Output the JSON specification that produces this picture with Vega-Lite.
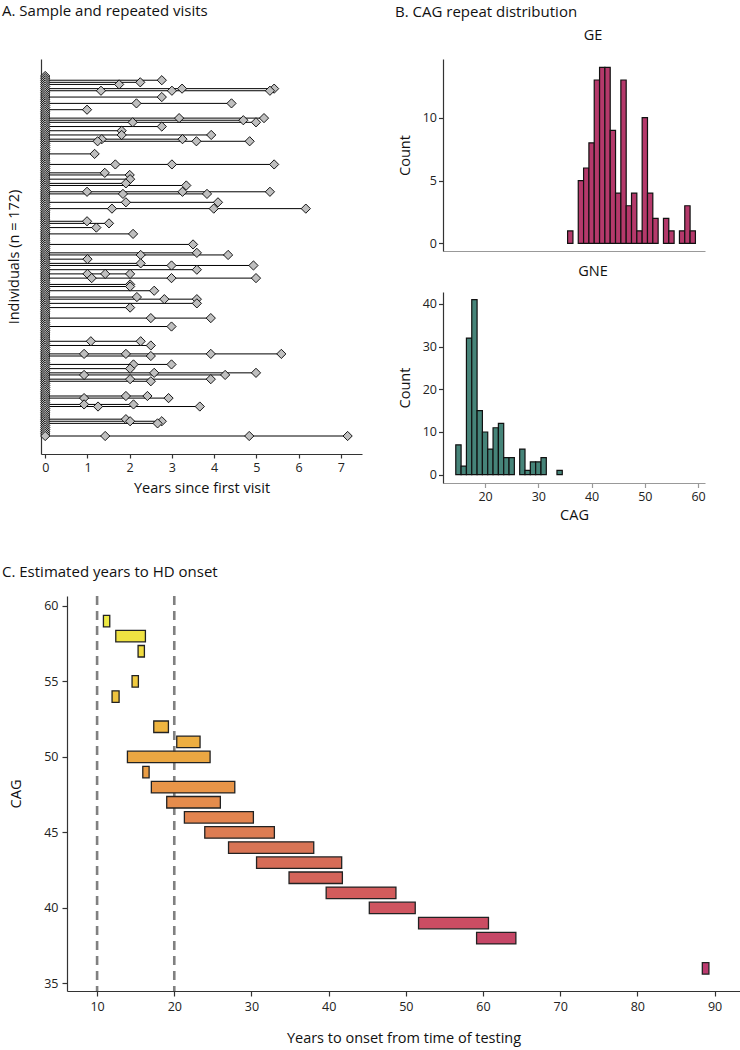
{
  "$schema": "https://vega.github.io/schema/vega-lite/v6.json",
  "padding": {"left": 2, "top": 4, "right": 0, "bottom": 8},
  "background": "white",
  "config": {
    "font": "Open Sans",
    "view": {"stroke": null},
    "axis": {"grid": false, "domainColor": "#333333", "tickColor": "#333333", "labelColor": "#222222", "titleColor": "#111111", "labelFontSize": 12.5, "titleFontSize": 14.5, "titleFontWeight": "normal", "tickSize": 4.5, "labelPadding": 3, "domainWidth": 1.2, "tickWidth": 1.2, "labelFlush": false},
    "title": {"fontWeight": "normal", "fontSize": 15, "color": "#111111", "baseline": "alphabetic"}
  },
  "spacing": 42,
  "vconcat": [
    {
      "bounds": "flush",
      "spacing": 81,
      "hconcat": [
        {
          "width": 321,
          "height": 395,
          "title": {"text": "A. Sample and repeated visits", "anchor": "start", "frame": "group", "dx": -39, "offset": 40},
          "data": {"values": [
            {"i":1,"v":[0]},{"i":2,"v":[0]},{"i":3,"v":[0,2.76]},{"i":4,"v":[0,2.25]},{"i":5,"v":[0,1.75]},{"i":6,"v":[0]},{"i":7,"v":[0,3.24,5.42]},{"i":8,"v":[0,1.32,3.0,5.32]},{"i":9,"v":[0]},{"i":10,"v":[0]},
            {"i":11,"v":[0,2.76]},{"i":12,"v":[0]},{"i":13,"v":[0]},{"i":14,"v":[0,2.16,4.41]},{"i":15,"v":[0]},{"i":16,"v":[0]},{"i":17,"v":[0,0.99]},{"i":18,"v":[0]},{"i":19,"v":[0]},{"i":20,"v":[0]},
            {"i":21,"v":[0,3.17,5.18]},{"i":22,"v":[0,4.69]},{"i":23,"v":[0,2.07,4.99]},{"i":24,"v":[0]},{"i":25,"v":[0,2.76]},{"i":26,"v":[0]},{"i":27,"v":[0,1.81]},{"i":28,"v":[0]},{"i":29,"v":[0,1.81,3.93]},{"i":30,"v":[0]},
            {"i":31,"v":[0,1.34,3.25]},{"i":32,"v":[0,1.24,3.58,4.84]},{"i":33,"v":[0]},{"i":34,"v":[0]},{"i":35,"v":[0]},{"i":36,"v":[0]},{"i":37,"v":[0]},{"i":38,"v":[0,1.17]},{"i":39,"v":[0]},{"i":40,"v":[0]},
            {"i":41,"v":[0]},{"i":42,"v":[0]},{"i":43,"v":[0,1.66,3.0,5.42]},{"i":44,"v":[0]},{"i":45,"v":[0]},{"i":46,"v":[0]},{"i":47,"v":[0,1.41]},{"i":48,"v":[0,2.0]},{"i":49,"v":[0]},{"i":50,"v":[0,2.01]},
            {"i":51,"v":[0]},{"i":52,"v":[0,1.91]},{"i":53,"v":[0,3.34]},{"i":54,"v":[0]},{"i":55,"v":[0]},{"i":56,"v":[0,0.99,3.25,5.32]},{"i":57,"v":[0,1.84,3.83]},{"i":58,"v":[0]},{"i":59,"v":[0]},{"i":60,"v":[0]},
            {"i":61,"v":[0,1.91,4.09]},{"i":62,"v":[0]},{"i":63,"v":[0]},{"i":64,"v":[0,1.58,3.99,6.17]},{"i":65,"v":[0]},{"i":66,"v":[0]},{"i":67,"v":[0]},{"i":68,"v":[0]},{"i":69,"v":[0]},{"i":70,"v":[0,0.99]},
            {"i":71,"v":[0,1.51]},{"i":72,"v":[0]},{"i":73,"v":[0,1.21]},{"i":74,"v":[0]},{"i":75,"v":[0]},{"i":76,"v":[0,2.08]},{"i":77,"v":[0]},{"i":78,"v":[0]},{"i":79,"v":[0]},{"i":80,"v":[0]},
            {"i":81,"v":[0,3.5]},{"i":82,"v":[0]},{"i":83,"v":[0]},{"i":84,"v":[0]},{"i":85,"v":[0,3.59]},{"i":86,"v":[0,2.26,4.33]},{"i":87,"v":[0]},{"i":88,"v":[0,1.0]},{"i":89,"v":[0]},{"i":90,"v":[0,2.26]},
            {"i":91,"v":[0,2.99,4.93]},{"i":92,"v":[0]},{"i":93,"v":[0,3.59]},{"i":94,"v":[0]},{"i":95,"v":[0,1.0,1.42,2.01]},{"i":96,"v":[0]},{"i":97,"v":[0,1.1,2.99,4.99]},{"i":98,"v":[0]},{"i":99,"v":[0]},{"i":100,"v":[0,2.01]},
            {"i":101,"v":[0,2.01]},{"i":102,"v":[0]},{"i":103,"v":[0,2.58]},{"i":104,"v":[0]},{"i":105,"v":[0]},{"i":106,"v":[0,2.17]},{"i":107,"v":[0,2.82,3.59]},{"i":108,"v":[0]},{"i":109,"v":[0,3.59]},{"i":110,"v":[0]},
            {"i":111,"v":[0,2.01]},{"i":112,"v":[0]},{"i":113,"v":[0]},{"i":114,"v":[0]},{"i":115,"v":[0]},{"i":116,"v":[0,2.5,3.92]},{"i":117,"v":[0]},{"i":118,"v":[0]},{"i":119,"v":[0]},{"i":120,"v":[0,2.99]},
            {"i":121,"v":[0]},{"i":122,"v":[0]},{"i":123,"v":[0]},{"i":124,"v":[0]},{"i":125,"v":[0]},{"i":126,"v":[0]},{"i":127,"v":[0,1.08,2.26]},{"i":128,"v":[0]},{"i":129,"v":[0,2.5]},{"i":130,"v":[0]},
            {"i":131,"v":[0]},{"i":132,"v":[0]},{"i":133,"v":[0,0.92,1.91,3.92,5.59]},{"i":134,"v":[0,2.5]},{"i":135,"v":[0]},{"i":136,"v":[0]},{"i":137,"v":[0]},{"i":138,"v":[0,2.09,2.99]},{"i":139,"v":[0]},{"i":140,"v":[0,2.01]},
            {"i":141,"v":[0]},{"i":142,"v":[0,2.58,4.99]},{"i":143,"v":[0,0.92,4.26]},{"i":144,"v":[0]},{"i":145,"v":[0,2.01,3.92]},{"i":146,"v":[0,2.5]},{"i":147,"v":[0]},{"i":148,"v":[0]},{"i":149,"v":[0]},{"i":150,"v":[0]},
            {"i":151,"v":[0]},{"i":152,"v":[0]},{"i":153,"v":[0,1.91,2.42]},{"i":154,"v":[0,0.92,2.92]},{"i":155,"v":[0]},{"i":156,"v":[0]},{"i":157,"v":[0,0.92,2.09]},{"i":158,"v":[0,1.25,3.66]},{"i":159,"v":[0]},{"i":160,"v":[0]},
            {"i":161,"v":[0]},{"i":162,"v":[0]},{"i":163,"v":[0]},{"i":164,"v":[0,1.91]},{"i":165,"v":[0,2.01,2.76]},{"i":166,"v":[0,2.66]},{"i":167,"v":[0]},{"i":168,"v":[0]},{"i":169,"v":[0]},{"i":170,"v":[0]},
            {"i":171,"v":[0]},{"i":172,"v":[0,1.42,4.83,7.16]}
          ]},
          "transform": [{"flatten": ["v"]}],
          "encoding": {
            "x": {"field": "v", "type": "quantitative", "scale": {"domain": [-0.1, 7.5], "nice": false, "zero": false},
                  "axis": {"title": "Years since first visit", "values": [0,1,2,3,4,5,6,7], "tickSize": 4, "labelPadding": 3, "titlePadding": 8}},
            "y": {"field": "i", "type": "quantitative", "scale": {"domain": [-7.08, 180.55], "reverse": true, "nice": false, "zero": false},
                  "axis": {"title": "Individuals (n = 172)", "labels": false, "ticks": false, "titlePadding": 20}}
          },
          "layer": [
            {"mark": {"type": "line", "color": "#000000", "strokeWidth": 1}, "encoding": {"detail": {"field": "i", "type": "nominal"}}},
            {"mark": {"type": "point", "shape": "diamond", "filled": true, "fill": "#bfbfbf", "stroke": "#000000", "strokeWidth": 0.9, "size": 85, "opacity": 1}}
          ]
        },
        {
          "bounds": "flush",
          "spacing": 41,
          "title": {"text": "B. CAG repeat distribution", "anchor": "start", "frame": "group", "dx": -48, "offset": 8},
          "vconcat": [
            {
              "width": 262,
              "height": 192,
              "title": {"text": "GE", "anchor": "middle", "dx": 19, "offset": 16, "fontSize": 14.5},
              "data": {"values": [
                {"cag":36,"lo":35.5,"hi":36.5,"n":1},{"cag":38,"lo":37.5,"hi":38.5,"n":5},{"cag":39,"lo":38.5,"hi":39.5,"n":6},{"cag":40,"lo":39.5,"hi":40.5,"n":8},
                {"cag":41,"lo":40.5,"hi":41.5,"n":13},{"cag":42,"lo":41.5,"hi":42.5,"n":14},{"cag":43,"lo":42.5,"hi":43.5,"n":14},{"cag":44,"lo":43.5,"hi":44.5,"n":9},
                {"cag":45,"lo":44.5,"hi":45.5,"n":4},{"cag":46,"lo":45.5,"hi":46.5,"n":13},{"cag":47,"lo":46.5,"hi":47.5,"n":3},{"cag":48,"lo":47.5,"hi":48.5,"n":4},
                {"cag":49,"lo":48.5,"hi":49.5,"n":1},{"cag":50,"lo":49.5,"hi":50.5,"n":10},{"cag":51,"lo":50.5,"hi":51.5,"n":4},{"cag":52,"lo":51.5,"hi":52.5,"n":2},
                {"cag":54,"lo":53.5,"hi":54.5,"n":2},{"cag":55,"lo":54.5,"hi":55.5,"n":1},{"cag":57,"lo":56.5,"hi":57.5,"n":1},{"cag":58,"lo":57.5,"hi":58.5,"n":3},
                {"cag":59,"lo":58.5,"hi":59.5,"n":1}
              ]},
              "mark": {"type": "rect", "fill": "#b5396b", "stroke": "#111111", "strokeWidth": 1.2},
              "encoding": {
                "x": {"field": "lo", "type": "quantitative", "scale": {"domain": [12.1, 61.3], "nice": false, "zero": false},
                      "axis": {"title": null, "labels": false, "ticks": false, "domainColor": "#999999"}},
                "x2": {"field": "hi"},
                "y": {"field": "n", "type": "quantitative", "scale": {"domain": [-0.6, 14.67], "nice": false, "zero": false},
                      "axis": {"title": "Count", "values": [0,5,10], "titlePadding": 10, "labelPadding": 2}},
                "y2": {"datum": 0}
              }
            },
            {
              "width": 262,
              "height": 191,
              "title": {"text": "GNE", "anchor": "middle", "dx": 19, "offset": 12.5, "fontSize": 14.5},
              "data": {"values": [
                {"cag":15,"lo":14.5,"hi":15.5,"n":7},{"cag":16,"lo":15.5,"hi":16.5,"n":2},{"cag":17,"lo":16.5,"hi":17.5,"n":32},{"cag":18,"lo":17.5,"hi":18.5,"n":41},
                {"cag":19,"lo":18.5,"hi":19.5,"n":15},{"cag":20,"lo":19.5,"hi":20.5,"n":10},{"cag":21,"lo":20.5,"hi":21.5,"n":6},{"cag":22,"lo":21.5,"hi":22.5,"n":11},
                {"cag":23,"lo":22.5,"hi":23.5,"n":12},{"cag":24,"lo":23.5,"hi":24.5,"n":4},{"cag":25,"lo":24.5,"hi":25.5,"n":4},{"cag":27,"lo":26.5,"hi":27.5,"n":6},
                {"cag":28,"lo":27.5,"hi":28.5,"n":1},{"cag":29,"lo":28.5,"hi":29.5,"n":3},{"cag":30,"lo":29.5,"hi":30.5,"n":3},{"cag":31,"lo":30.5,"hi":31.5,"n":4},
                {"cag":34,"lo":33.5,"hi":34.5,"n":1}
              ]},
              "mark": {"type": "rect", "fill": "#468479", "stroke": "#111111", "strokeWidth": 1.2},
              "encoding": {
                "x": {"field": "lo", "type": "quantitative", "scale": {"domain": [12.1, 61.3], "nice": false, "zero": false},
                      "axis": {"title": "CAG", "values": [20,30,40,50,60], "domainColor": "#999999", "tickColor": "#999999", "titlePadding": 5}},
                "x2": {"field": "hi"},
                "y": {"field": "n", "type": "quantitative", "scale": {"domain": [-1.95, 42.8], "nice": false, "zero": false},
                      "axis": {"title": "Count", "values": [0,10,20,30,40], "titlePadding": 10, "labelPadding": 2}},
                "y2": {"datum": 0}
              }
            }
          ]
        }
      ]
    },
    {
      "bounds": "flush",
      "spacing": 20,
      "hconcat": [
        {
          "width": 6,
          "height": 10,
          "data": {"values": []},
          "mark": {"type": "point", "opacity": 0},
          "encoding": {}
        },
        {
          "width": 673,
          "height": 395,
          "title": {"text": "C. Estimated years to HD onset", "anchor": "start", "frame": "group", "dx": -65, "offset": 15},
          "layer": [
            {
              "data": {"values": [{"lo": 10}, {"lo": 20}]},
              "mark": {"type": "rule", "color": "#808080", "strokeWidth": 2.6, "strokeDash": [9, 6]},
              "encoding": {"x": {"field": "lo", "type": "quantitative"}}
            },
            {
              "data": {"values": [
                {"cag":59,"lo":10.82,"hi":11.64},{"cag":58,"lo":12.42,"hi":16.26},{"cag":57,"lo":15.31,"hi":16.13},{"cag":55,"lo":14.53,"hi":15.35},
                {"cag":54,"lo":11.94,"hi":12.85},{"cag":52,"lo":17.34,"hi":19.24},{"cag":51,"lo":20.32,"hi":23.34},{"cag":50,"lo":13.93,"hi":24.64},
                {"cag":49,"lo":15.92,"hi":16.74},{"cag":48,"lo":17.03,"hi":27.84},{"cag":47,"lo":19.02,"hi":25.97},{"cag":46,"lo":21.31,"hi":30.25},
                {"cag":45,"lo":23.95,"hi":32.97},{"cag":44,"lo":27.03,"hi":38.07},{"cag":43,"lo":30.66,"hi":41.69},{"cag":42,"lo":34.87,"hi":41.78},
                {"cag":41,"lo":39.68,"hi":48.72},{"cag":40,"lo":45.27,"hi":51.22},{"cag":39,"lo":51.65,"hi":60.71},{"cag":38,"lo":59.17,"hi":64.26},
                {"cag":36,"lo":88.42,"hi":89.27}
              ]},
              "mark": {"type": "bar", "orient": "horizontal", "height": 11.5, "stroke": "#222222", "strokeWidth": 1.3},
              "encoding": {
                "x": {"field": "lo", "type": "quantitative"},
                "x2": {"field": "hi"},
                "y": {"field": "cag", "type": "quantitative", "scale": {"domain": [34.5, 60.66], "nice": false, "zero": false, "padding": 0},
                      "axis": {"title": "CAG", "values": [35,40,45,50,55,60], "tickSize": 5, "labelPadding": 4, "titlePadding": 20}},
                "color": {"field": "cag", "type": "quantitative", "legend": null,
                          "scale": {"domain": [36, 44, 50, 59], "range": ["#bb3a6e", "#d87455", "#eba742", "#eeea44"]}}
              }
            }
          ],
          "encoding": {
            "x": {"field": "lo", "type": "quantitative", "scale": {"domain": [6.1, 93.3], "nice": false, "zero": false, "padding": 0},
                  "axis": {"title": "Years to onset from time of testing", "values": [10,20,30,40,50,60,70,80,90], "tickSize": 5, "labelPadding": 4, "titlePadding": 19}}
          }
        }
      ]
    }
  ]
}
